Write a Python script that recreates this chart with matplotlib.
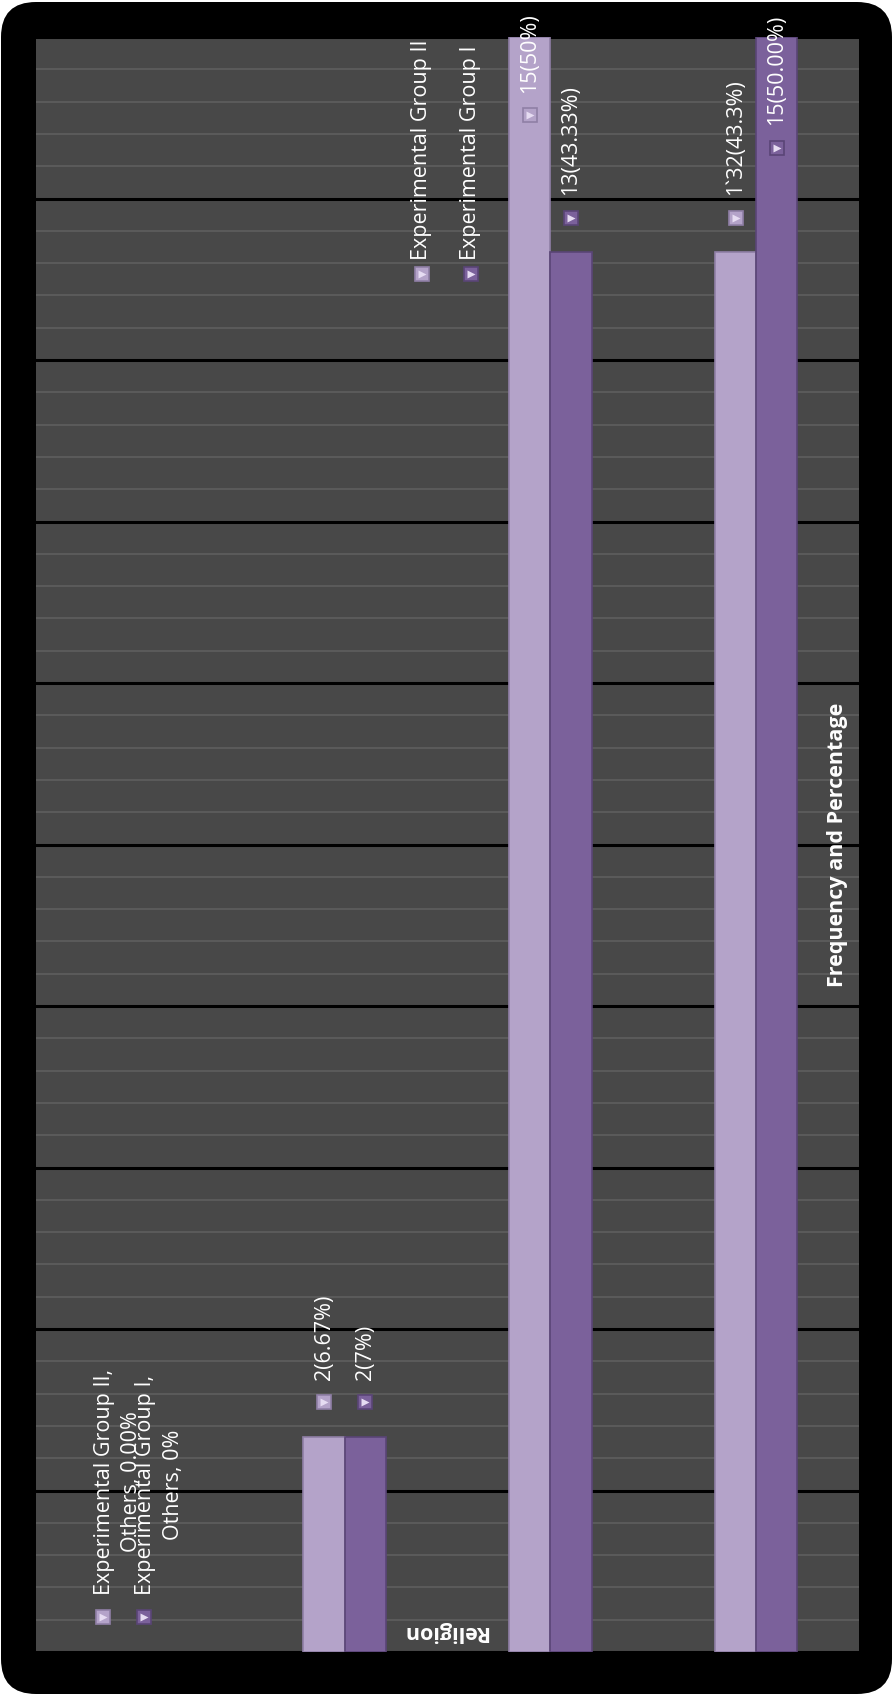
import numpy as np
import matplotlib.pyplot as plt
from matplotlib.patches import FancyBboxPatch
from matplotlib.transforms import offset_copy

plt.rcParams['font.family'] = ['Open Sans', 'DejaVu Sans']

series_names = ['Experimental Group II', 'Experimental Group I']
group2_vals = [0, 2, 15, 13]
group1_vals = [0, 2, 13, 15]
group2_labels = ['Experimental Group II,\nOthers, 0.00%', '2(6.67%)', '15(50%)', '1`32(43.3%)']
group1_labels = ['Experimental Group I,\nOthers, 0%', '2(7%)', '13(43.33%)', '15(50.00%)']
axis_title = 'Frequency and Percentage'
cat_title = 'Religion'

light = '#b4a3c9'
dark = '#7b619b'
light_edge = '#8f7fa6'
dark_edge = '#5a4576'

fig = plt.figure(figsize=(8.93, 16.95), dpi=100)
fig.patch.set_facecolor('white')
frame = FancyBboxPatch((0.01, 0.01), 8.91, 16.92,
                       boxstyle='round,pad=0,rounding_size=0.35',
                       transform=fig.dpi_scale_trans, fc='black', ec='none', zorder=-10)
fig.add_artist(frame)

ax = fig.add_axes([36 / 893, 43 / 1695, 823 / 893, 1615 / 1695])
ax.set_zorder(1)
ax.set_facecolor('#484848')
ax.set_xlim(-0.5, 3.5)
ax.set_ylim(0, 15)
ax.set_yticks(np.arange(0, 15.01, 1.5))
ax.set_yticks(np.arange(0, 15.01, 0.3), minor=True)
ax.grid(which='minor', axis='y', color='#5c5c5c', lw=1.3)
ax.grid(which='major', axis='y', color='black', lw=2.2)
ax.set_axisbelow(True)
ax.tick_params(which='both', length=0, labelleft=False, labelbottom=False)
for s in ax.spines.values():
    s.set_visible(False)

x = np.arange(len(group1_vals))
w = 0.2
ax.bar(x - w / 2, group2_vals, w, color=light, ec=light_edge,
       lw=[1.2 if v > 0 else 0 for v in group2_vals])
ax.bar(x + w / 2, group1_vals, w, color=dark, ec=dark_edge,
       lw=[1.2 if v > 0 else 0 for v in group1_vals])


def key_marker(xx, yy, col, edge, trans):
    ax.plot(xx, yy, marker='s', ms=10.5, mfc=col, mec=edge, mew=1.2,
            transform=trans, clip_on=False, zorder=5)
    ax.plot(xx, yy, marker='>', ms=5.5, mfc='#e6dcf2', mec='none',
            transform=trans, clip_on=False, zorder=6)


fs = 15.5
ls = 1.4
for vals, labels, dx, col, edge, cap in [(group2_vals, group2_labels, -w / 2, light, light_edge, 13.95),
                                         (group1_vals, group1_labels, w / 2, dark, dark_edge, 13.65)]:
    for xi, v, lab in zip(x, vals, labels):
        anchor = min(v, cap)
        nlines = lab.count('\n') + 1
        ax.annotate(lab, (xi + dx, anchor), xytext=(0, 41), textcoords='offset points',
                    rotation=90, ha='center', va='bottom', color='white', fontsize=fs,
                    linespacing=ls, multialignment='center', annotation_clip=False)
        shift = -(nlines - 1) * fs * ls / 2
        trans = offset_copy(ax.transData, fig=fig, x=shift, y=25, units='points')
        key_marker(xi + dx, anchor, col, edge, trans)

# legend entries, drawn rotated like the rest of the chart
for j, (name, col, edge) in enumerate(zip(series_names, [light, dark], [light_edge, dark_edge])):
    lx = 0.469 + 0.0595 * j
    ax.text(lx, 0.862, name, transform=ax.transAxes, rotation=90, ha='center',
            va='bottom', color='white', fontsize=fs, clip_on=False)
    key_marker(lx, 0.853, col, edge, ax.transAxes)

ax.text(0.974, 0.5, axis_title, transform=ax.transAxes, rotation=90, ha='center',
        va='center', color='white', fontsize=15.5, fontweight='bold')
ax.text(0.497, 0.013, cat_title, transform=ax.transAxes, rotation=180, ha='center',
        va='center', color='white', fontsize=15.5, fontweight='bold')

fig.savefig('out.png', dpi=100, facecolor=fig.get_facecolor())
